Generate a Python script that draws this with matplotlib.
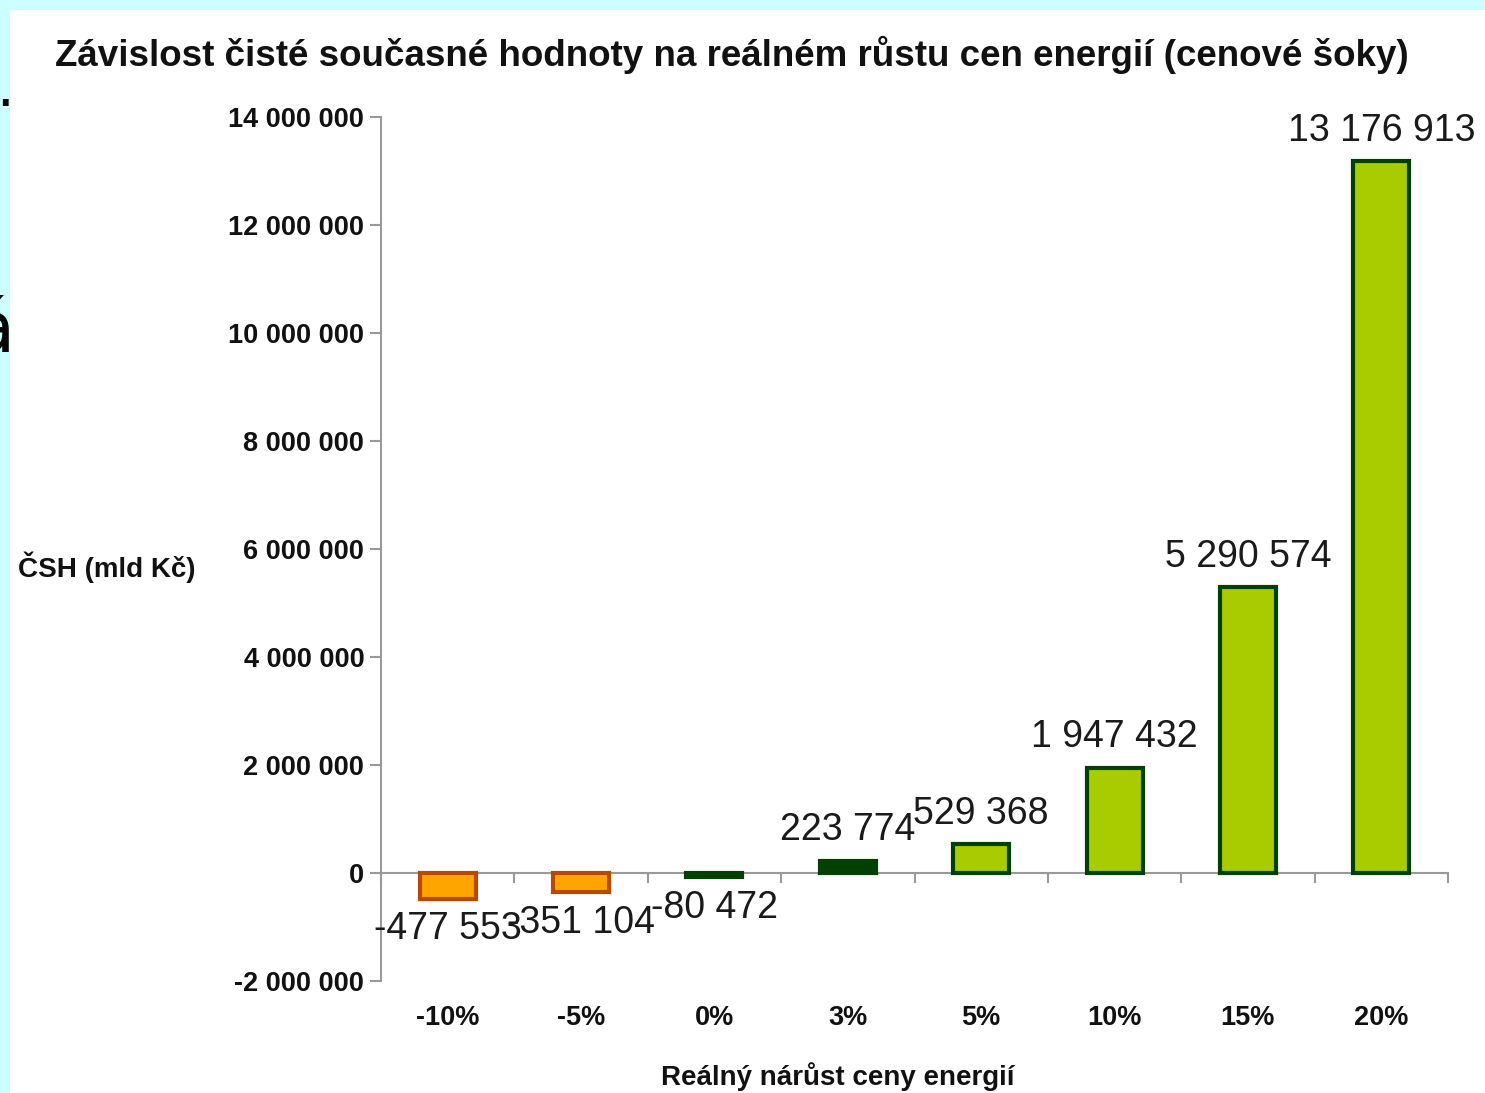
import matplotlib
matplotlib.use("Agg")
import matplotlib.pyplot as plt
from matplotlib.patches import Rectangle
from matplotlib.transforms import blended_transform_factory
import numpy as np

categories = ["-10%", "-5%", "0%", "3%", "5%", "10%", "15%", "20%"]
values = [-477553, -351104, -80472, 223774, 529368, 1947432, 5290574, 13176913]
labels = ["-477 553", "-351 104", "-80 472", "223 774", "529 368", "1 947 432", "5 290 574", "13 176 913"]
face_colors = ["#FFA500", "#FFA500", "#004000", "#004000", "#A8CC00", "#A8CC00", "#A8CC00", "#A8CC00"]
edge_colors = ["#B84A00", "#B84A00", "#004000", "#004000", "#004000", "#004000", "#004000", "#004000"]
yticks = [-2000000, 0, 2000000, 4000000, 6000000, 8000000, 10000000, 12000000, 14000000]
ytick_labels = ["-2 000 000", "0", "2 000 000", "4 000 000", "6 000 000", "8 000 000",
                "10 000 000", "12 000 000", "14 000 000"]
title = "Závislost čisté současné hodnoty na reálném růstu cen energií (cenové šoky)"
xlabel = "Reálný nárůst ceny energií"
ylabel = "ČSH (mld Kč)"

plt.rcParams["font.family"] = ["Liberation Sans", "DejaVu Sans"]

W, H = 1485, 1093
fig = plt.figure(figsize=(W / 100, H / 100), dpi=100, facecolor="#CCFFFF")

# clipped slide fragments behind white panel
fig.text(14 / W, 1 - 118 / H, ".", fontsize=40, ha="right", va="bottom", zorder=-3,
         family="DejaVu Sans")
fig.text(15 / W, 1 - 352 / H, "á", fontsize=52, ha="right", va="baseline", zorder=-3,
         family="DejaVu Sans")
fig.patches.append(Rectangle((10 / W, 0), 1, 1 - 10 / H, transform=fig.transFigure,
                             facecolor="white", edgecolor="none", zorder=-2))

ax = fig.add_axes([381 / W, 1 - 981 / H, (1448 - 381) / W, (981 - 117) / H])
ax.patch.set_alpha(0)

x = np.arange(len(categories))
bars = ax.bar(x, values, width=0.42, color=face_colors, edgecolor=edge_colors,
              linewidth=3, zorder=3)

for xi, v, lab in zip(x, values, labels):
    off = 22 if v >= 0 else -22
    ax.annotate(lab, (xi, v), xytext=(0, off), textcoords="offset points",
                ha="center", va="center", fontsize=27, color="#1a1a1a", zorder=5)

ax.set_xlim(-0.5, len(categories) - 0.5)
ax.set_ylim(-2000000, 14000000)
ax.set_yticks(yticks)
ax.set_yticklabels(ytick_labels, fontsize=19.5, fontweight="bold", color="#111111")
ax.tick_params(axis="y", direction="out", length=8, width=1.5, color="#999999", pad=4)

for s in ["top", "right"]:
    ax.spines[s].set_visible(False)
ax.spines["left"].set_color("#999999")
ax.spines["left"].set_linewidth(1.5)
ax.spines["bottom"].set_position(("data", 0))
ax.spines["bottom"].set_color("#999999")
ax.spines["bottom"].set_linewidth(1.5)

ax.set_xticks(x)
ax.set_xticklabels([])
ax.tick_params(axis="x", which="major", length=0)
ax.set_xticks(np.arange(len(categories) + 1) - 0.5, minor=True)
ax.tick_params(axis="x", which="minor", direction="out", length=7, width=1.5, color="#999999")

trans = blended_transform_factory(ax.transData, ax.transAxes)
for xi, c in zip(x, categories):
    ax.text(xi, -0.043, c, transform=trans, ha="center", va="center",
            fontsize=19.5, fontweight="bold", color="#111111")

fig.text(732 / W, 1 - 55 / H, title, ha="center", va="center", fontsize=26.5,
         fontweight="bold", color="#111111")
fig.text(838 / W, 1 - 1077 / H, xlabel, ha="center", va="center", fontsize=20,
         fontweight="bold", color="#111111")
fig.text(107 / W, 1 - 567 / H, ylabel, ha="center", va="center", fontsize=20,
         fontweight="bold", color="#111111")

fig.savefig("out.png", dpi=100, facecolor=fig.get_facecolor())
